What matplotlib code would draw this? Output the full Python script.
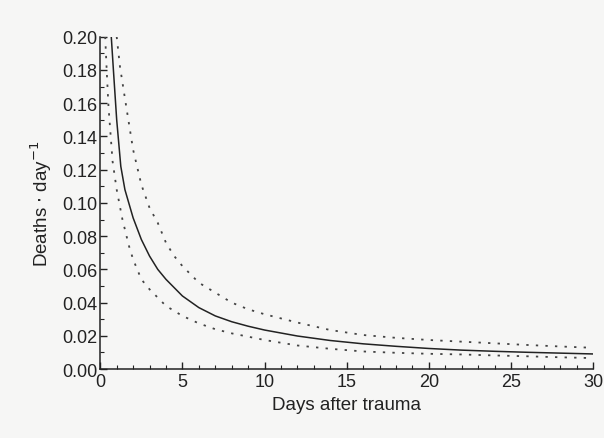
import matplotlib.pyplot as plt
import numpy as np
from matplotlib.ticker import MultipleLocator, FormatStrFormatter

plt.rcParams['font.family'] = ['Liberation Sans', 'DejaVu Sans']

# fitted death rate (solid) and its confidence band (dotted)
x_mid = [0.67, 0.8, 1.0, 1.25, 1.5, 2.0, 2.5, 3.0, 3.5, 4.0, 5.0, 6.0, 7.0, 8.0, 9.0,
         10, 12, 14, 16, 18, 20, 22, 24, 26, 28, 30]
y_mid = [0.200, 0.180, 0.150, 0.122, 0.108, 0.091, 0.078, 0.068, 0.060, 0.054, 0.044,
         0.037, 0.032, 0.0285, 0.0258, 0.0235, 0.0199, 0.0172, 0.0152, 0.0137, 0.0124,
         0.0114, 0.0107, 0.0101, 0.0096, 0.0091]

x_up = [1.0, 1.2, 1.5, 2.0, 2.5, 3.0, 3.5, 4.0, 4.5, 5.0, 6.0, 7.0, 8.0, 9.0,
        10, 12, 14, 16, 18, 20, 22, 24, 26, 28, 30]
y_up = [0.200, 0.182, 0.163, 0.132, 0.111, 0.097, 0.088, 0.076, 0.068, 0.062, 0.052,
        0.046, 0.040, 0.036, 0.033, 0.028, 0.0235, 0.0205, 0.0188, 0.0175, 0.0165,
        0.0155, 0.0145, 0.0136, 0.0128]

x_lo = [0.3, 0.4, 0.5, 0.75, 1.0, 1.35, 1.75, 2.0, 2.5, 3.0, 4.0, 5.0, 6.0, 7.0, 8.0,
        10, 12, 14, 16, 18, 20, 22, 24, 26, 28, 30]
y_lo = [0.200, 0.178, 0.158, 0.125, 0.108, 0.090, 0.074, 0.066, 0.054, 0.048, 0.038,
        0.032, 0.0275, 0.024, 0.0215, 0.0175, 0.0142, 0.0122, 0.0106, 0.0098, 0.0092,
        0.0088, 0.0082, 0.0077, 0.0071, 0.0066]

bg = '#f6f6f5'
fig = plt.figure(figsize=(6.04, 4.39), dpi=100, facecolor=bg)
ax = fig.add_axes([0.166, 0.157, 0.816, 0.757])
ax.set_facecolor(bg)

ax.plot(x_mid, y_mid, color='#222222', lw=1.1)
ax.plot(x_up, y_up, color='#444444', lw=1.3, ls=(0, (1.3, 4)))
ax.plot(x_lo, y_lo, color='#444444', lw=1.3, ls=(0, (1.3, 4)))

ax.set_xlim(0, 30)
ax.set_ylim(0, 0.20)
ax.xaxis.set_major_locator(MultipleLocator(5))
ax.xaxis.set_minor_locator(MultipleLocator(1))
ax.yaxis.set_major_locator(MultipleLocator(0.02))
ax.yaxis.set_minor_locator(MultipleLocator(0.01))
ax.yaxis.set_major_formatter(FormatStrFormatter('%.2f'))
ax.tick_params(which='both', direction='in', colors='#222222', labelsize=13)
ax.tick_params(which='major', length=5, width=1)
ax.tick_params(which='minor', length=3, width=0.8)
ax.tick_params(axis='x', pad=3)
ax.tick_params(axis='y', pad=2)

for s in ['top', 'right']:
    ax.spines[s].set_visible(False)
for s in ['left', 'bottom']:
    ax.spines[s].set_color('#222222')
    ax.spines[s].set_linewidth(1.1)

ax.set_xlabel('Days after trauma', fontsize=13.5, color='#222222', labelpad=4)
ax.set_ylabel('Deaths $\\cdot$ day$^{-1}$', fontsize=13.5, color='#222222', labelpad=6)

fig.savefig('out.png', dpi=100, facecolor=bg)
